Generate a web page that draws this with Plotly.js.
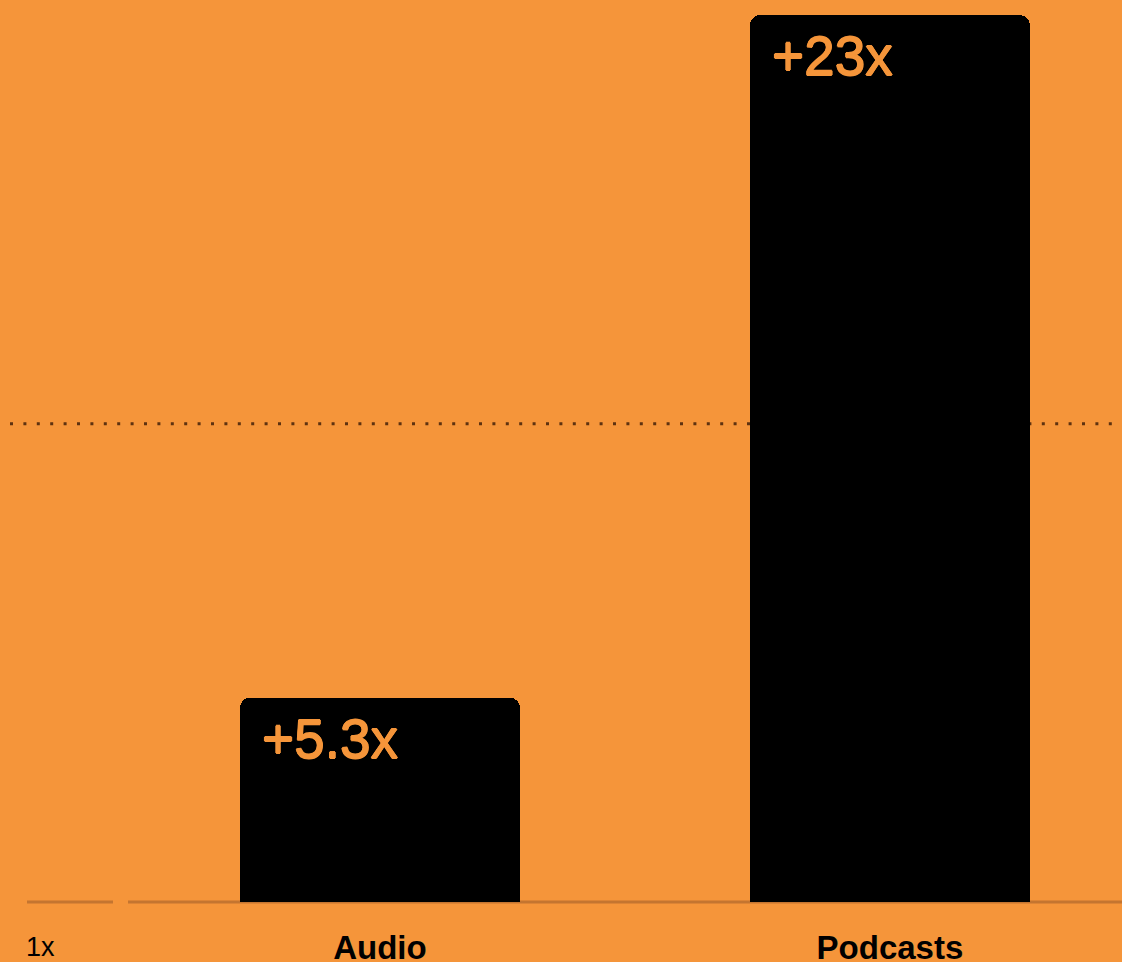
<!DOCTYPE html>
<html>
<head>
<meta charset="utf-8">
<script src="https://cdn.plot.ly/plotly-3.0.1.min.js"></script>
<style>
html,body{margin:0;padding:0;background:#F5953A;}
#chart{width:1122px;height:962px;}
</style>
</head>
<body>
<div id="chart"></div>
<script>
const categories = ["Audio", "Podcasts"];
const growth = [5.3, 23];
const barLabels = ["+5.3x", "+23x"];
const baselineLabel = "1x";
const referenceLevel = 12.4;

const ORANGE = "#F5953A";
const xIdx = categories.map((_, i) => i);

const trace = {
  type: "bar",
  x: xIdx,
  y: growth,
  width: 0.549,
  marker: { color: "#000000", cornerradius: 10, line: { width: 0 } },
  hoverinfo: "skip"
};

const annotations = barLabels.map((t, i) => ({
  x: xIdx[i], y: growth[i], xref: "x", yref: "y",
  text: t, showarrow: false,
  xanchor: "left", yanchor: "top",
  xshift: -120, yshift: -8,
  font: { family: "Liberation Sans, Arial, sans-serif", size: 55, color: ORANGE,
          shadow: "0.7px 0 0 #F5953A, -0.7px 0 0 #F5953A, 0 0.6px 0 #F5953A, 0 -0.6px 0 #F5953A" }
}));
annotations.push({
  x: 27 / 1122, y: 0, xref: "paper", yref: "y",
  text: baselineLabel, showarrow: false,
  xanchor: "left", yanchor: "top", yshift: -28, xshift: -3,
  font: { family: "Liberation Sans, Arial, sans-serif", size: 27, color: "#000000" }
});

const shapes = [
  { type: "line", xref: "paper", yref: "y", x0: 10 / 1122, x1: 1, y0: referenceLevel, y1: referenceLevel,
    layer: "below", line: { color: "#5E3210", width: 3, dash: "3px,10.4px" } },
  { type: "line", xref: "paper", yref: "y", x0: 27 / 1122, x1: 113 / 1122, y0: 0, y1: 0,
    layer: "below", line: { color: "#C47530", width: 3 } },
  { type: "line", xref: "paper", yref: "y", x0: 128 / 1122, x1: 1, y0: 0, y1: 0,
    layer: "below", line: { color: "#C47530", width: 3 } }
];

const layout = {
  width: 1122, height: 962,
  margin: { l: 0, r: 0, t: 0, b: 57, pad: 0 },
  paper_bgcolor: ORANGE, plot_bgcolor: ORANGE,
  showlegend: false,
  xaxis: {
    range: [-0.745, 1.455], tickvals: xIdx, ticktext: categories,
    showgrid: false, zeroline: false, showline: false, ticks: "",
    tickfont: { family: "Liberation Sans, Arial, sans-serif", size: 33, color: "#000000", weight: "bold" },
    ticklabelstandoff: 20, fixedrange: true
  },
  yaxis: {
    range: [-0.078, 23.39], showgrid: false, zeroline: false, showline: false,
    showticklabels: false, ticks: "", fixedrange: true
  },
  annotations: annotations,
  shapes: shapes,
  bargap: 0
};

Plotly.newPlot("chart", [trace], layout, { displayModeBar: false, staticPlot: true });
</script>
</body>
</html>
